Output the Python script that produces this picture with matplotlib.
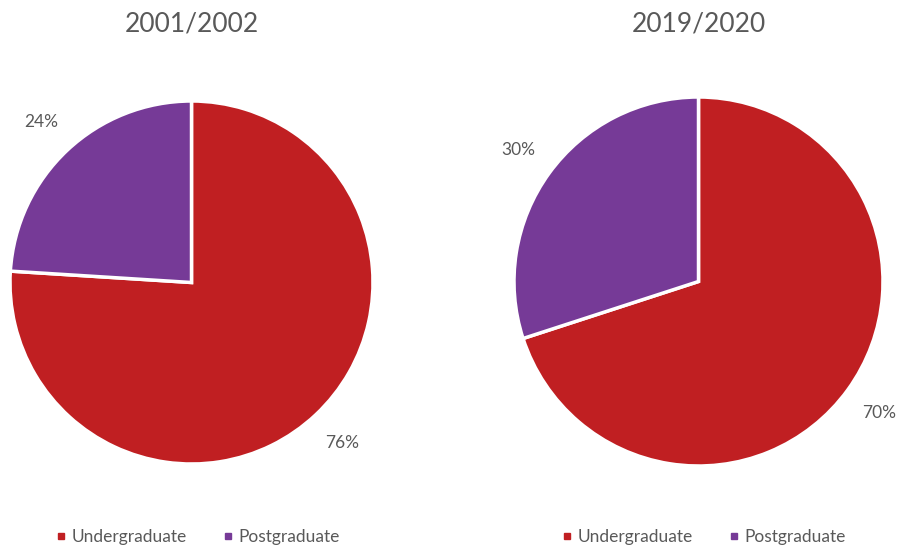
import matplotlib
matplotlib.use("Agg")
import matplotlib.pyplot as plt
from matplotlib.lines import Line2D

plt.rcParams['font.family'] = ['Lato', 'DejaVu Sans']

categories = ["Undergraduate", "Postgraduate"]
titles = ["2001/2002", "2019/2020"]
values_2001 = [76, 24]
values_2019 = [70, 30]
colors = ["#C01F22", "#763A97"]
text_color = "#595959"

W, H = 904, 552
fig = plt.figure(figsize=(W / 100, H / 100), dpi=100)

# (center x, center y from top, radius) in pixels
geoms = [(191.5, 282.5, 181.5), (698.5, 281.5, 184.5)]
legend_x = [197, 703]
for (cx, cy, r), vals, title, lx in zip(geoms, [values_2001, values_2019], titles, legend_x):
    ax = fig.add_axes([(cx - r) / W, 1 - (cy + r) / H, 2 * r / W, 2 * r / H])
    ax.pie(vals, colors=colors, startangle=90, counterclock=False,
           autopct='%1.0f%%', pctdistance=1.21,
           wedgeprops=dict(edgecolor='white', linewidth=2.5),
           textprops=dict(color=text_color, fontsize=12.5))
    ax.set_xlim(-1, 1)
    ax.set_ylim(-1, 1)
    ax.set_aspect('equal')
    ax.axis('off')
    fig.text(cx / W, 1 - 24 / H, title, ha='center', va='center',
             fontsize=19, color=text_color)
    handles = [Line2D([0], [0], marker='s', linestyle='none', markersize=5,
                      markerfacecolor=c, markeredgecolor=c) for c in colors]
    fig.legend(handles, categories, loc='center', bbox_to_anchor=(lx / W, 1 - 537 / H),
               ncol=2, frameon=False, fontsize=12.5, labelcolor=text_color,
               handletextpad=0.2, columnspacing=2.0, handlelength=0.8)

fig.savefig("out.png", dpi=100, facecolor='white')
